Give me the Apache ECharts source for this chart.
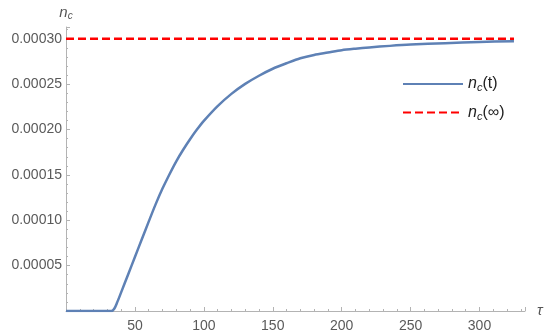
<!DOCTYPE html>
<html><head><meta charset="utf-8">
<script src="https://cdn.jsdelivr.net/npm/echarts@6/dist/echarts.min.js"></script>
<style>html,body{margin:0;padding:0;background:#fff}#c{width:550px;height:336px}</style>
</head><body><div id="c"></div>
<script>
const tValues = [0, 10, 20, 30, 33, 35, 37, 40, 45, 50, 55, 60, 65, 70, 75, 80, 85, 90, 95, 100, 110, 120, 130, 140, 150, 160, 170, 180, 190, 200, 210, 220, 235, 250, 275, 300, 325];
const ncValues = [0, 0, 0, 0, 0, 0.0000025, 0.000009, 0.0000205, 0.0000400, 0.0000595, 0.0000790, 0.0000985, 0.0001175, 0.0001349, 0.0001505, 0.0001650, 0.0001777, 0.0001893, 0.0001999, 0.0002095, 0.0002258, 0.0002393, 0.0002503, 0.0002593, 0.0002670, 0.0002730, 0.0002785, 0.0002822, 0.0002848, 0.0002874, 0.0002891, 0.0002905, 0.0002922, 0.0002936, 0.0002952, 0.0002965, 0.0002974];
const ncInfT = [0, 325];
const ncInfValues = [0.0003, 0.0003];
const seriesNames = ['nc(t)', 'nc(∞)'];

const chart = echarts.init(document.getElementById('c'));
const axisColor = '#b3b3b3';
const labelColor = '#5a5a5a';
const font = 'Liberation Sans, Arial, sans-serif';
chart.setOption({
  animation: false,
  grid: {left: 66, right: 25, top: 27, bottom: 25, containLabel: false},
  xAxis: {
    type: 'value', min: 0, max: 333, interval: 50,
    name: 'τ', nameLocation: 'end', nameGap: 12,
    nameTextStyle: {fontFamily: font, fontStyle: 'italic', fontSize: 15, color: '#555', verticalAlign: 'middle'},
    axisLine: {show: true, lineStyle: {color: axisColor, width: 1}},
    axisTick: {show: true, inside: true, length: 4, lineStyle: {color: axisColor}},
    minorTick: {show: true, splitNumber: 5, length: 2, lineStyle: {color: axisColor}},
    splitLine: {show: false},
    axisLabel: {fontFamily: font, fontSize: 14, color: labelColor, margin: 8,
      formatter: v => (v > 0 && v % 50 === 0) ? String(v) : ''}
  },
  yAxis: {
    type: 'value', min: 0, max: 0.000313, interval: 0.00005,
    name: '{n|n}{c|c}', nameLocation: 'end', nameGap: 6,
    nameTextStyle: {align: 'center', rich: {
      n: {fontFamily: font, fontStyle: 'italic', fontSize: 15, color: '#555'},
      c: {fontFamily: font, fontStyle: 'italic', fontSize: 10, color: '#555', verticalAlign: 'bottom', padding: [6, 0, 0, 0]}
    }},
    axisLine: {show: true, lineStyle: {color: axisColor, width: 1}},
    axisTick: {show: true, inside: true, length: 4, lineStyle: {color: axisColor}},
    minorTick: {show: true, splitNumber: 5, length: 2, lineStyle: {color: axisColor}},
    splitLine: {show: false},
    axisLabel: {fontFamily: font, fontSize: 14, color: labelColor, margin: 4,
      formatter: v => (v > 0 && Math.abs(v / 0.00005 - Math.round(v / 0.00005)) < 1e-6) ? v.toFixed(5) : ''}
  },
  legend: {
    orient: 'vertical', left: 397, top: 71, itemWidth: 60, itemHeight: 20, itemGap: 11,
    data: seriesNames,
    itemStyle: {opacity: 0},
    formatter: name => name === seriesNames[0] ? '{n|n}{c|c}{t|(t)}' : '{n|n}{c|c}{t|(∞)}',
    textStyle: {rich: {
      n: {fontFamily: font, fontStyle: 'italic', fontSize: 16, color: '#222'},
      c: {fontFamily: font, fontStyle: 'italic', fontSize: 11, color: '#222', verticalAlign: 'bottom', padding: [8, 0, 0, 0]},
      t: {fontFamily: font, fontSize: 16, color: '#222'}
    }}
  },
  series: [
    {name: seriesNames[0], type: 'line', data: tValues.map((t, i) => [t, ncValues[i]]),
     symbol: 'none', smooth: 0.3,
     lineStyle: {color: '#5e81b5', width: 2.5}, itemStyle: {color: '#5e81b5'}, z: 2},
    {name: seriesNames[1], type: 'line', data: ncInfT.map((t, i) => [t, ncInfValues[i]]),
     symbol: 'none',
     lineStyle: {color: '#ff0000', width: 2.5, type: [8, 4]}, itemStyle: {color: '#ff0000'}, z: 3}
  ]
});
</script></body></html>
